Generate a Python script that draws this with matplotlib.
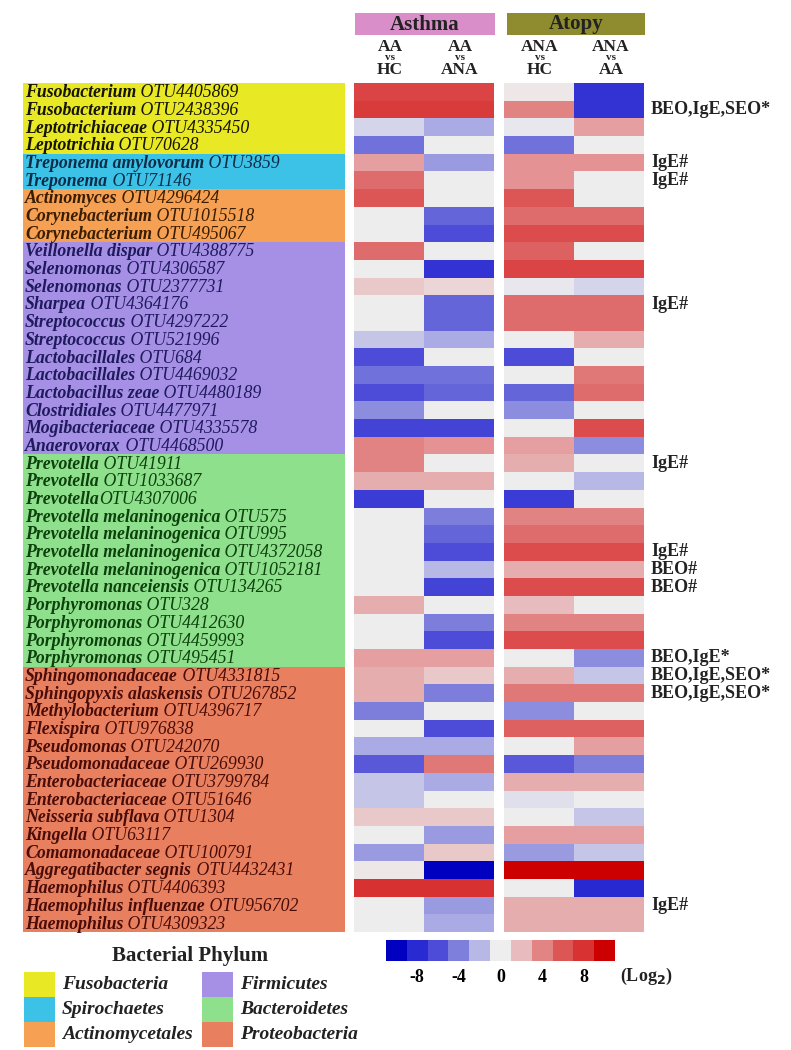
import matplotlib
matplotlib.use("Agg")
import matplotlib.pyplot as plt
import numpy as np
from matplotlib.colors import LinearSegmentedColormap, ListedColormap, BoundaryNorm, Normalize
from matplotlib.patches import Rectangle
import matplotlib.cm as cm

W, H = 791, 1050
plt.rcParams['font.family'] = ['Liberation Serif', 'DejaVu Serif']
plt.rcParams['axes.unicode_minus'] = False

# ---- data ----
genus = ["Fusobacterium", "Fusobacterium", "Leptotrichiaceae", "Leptotrichia",
         "Treponema amylovorum", "Treponema",
         "Actinomyces", "Corynebacterium", "Corynebacterium",
         "Veillonella dispar", "Selenomonas", "Selenomonas", "Sharpea",
         "Streptococcus", "Streptococcus", "Lactobacillales", "Lactobacillales",
         "Lactobacillus zeae", "Clostridiales", "Mogibacteriaceae", "Anaerovorax",
         "Prevotella", "Prevotella", "Prevotella",
         "Prevotella melaninogenica", "Prevotella melaninogenica",
         "Prevotella melaninogenica", "Prevotella melaninogenica",
         "Prevotella nanceiensis", "Porphyromonas", "Porphyromonas",
         "Porphyromonas", "Porphyromonas",
         "Sphingomonadaceae", "Sphingopyxis alaskensis", "Methylobacterium",
         "Flexispira", "Pseudomonas", "Pseudomonadaceae", "Enterobacteriaceae",
         "Enterobacteriaceae", "Neisseria subflava", "Kingella", "Comamonadaceae",
         "Aggregatibacter segnis", "Haemophilus", "Haemophilus influenzae",
         "Haemophilus"]
otu = [" OTU4405869", " OTU2438396", " OTU4335450", " OTU70628",
       " OTU3859", " OTU71146",
       " OTU4296424", " OTU1015518", " OTU495067",
       " OTU4388775", " OTU4306587", " OTU2377731", " OTU4364176",
       " OTU4297222", " OTU521996", " OTU684", " OTU4469032",
       " OTU4480189", " OTU4477971", " OTU4335578", " OTU4468500",
       " OTU41911", " OTU1033687", "OTU4307006",
       " OTU575", " OTU995", " OTU4372058", " OTU1052181",
       " OTU134265", " OTU328", " OTU4412630", " OTU4459993", " OTU495451",
       " OTU4331815", " OTU267852", " OTU4396717",
       " OTU976838", " OTU242070", " OTU269930", " OTU3799784",
       " OTU51646", " OTU1304", " OTU63117", " OTU100791",
       " OTU4432431", " OTU4406393", " OTU956702", " OTU4309323"]

phyla = ["Fusobacteria", "Spirochaetes", "Actinomycetales",
         "Firmicutes", "Bacteroidetes", "Proteobacteria"]
phylum_sizes = [4, 2, 3, 12, 12, 15]
phylum_colors = ["#E9E824", "#3CC2E6", "#F5A052", "#A690E6", "#8FE08C", "#E8805F"]
text_colors = ["#141400", "#0c2c48", "#3a1c00", "#1e1a5c", "#0c400c", "#4a0c08"]

groups = ["Asthma", "Atopy"]
group_colors = ["#D98EC9", "#8E8C2E"]
comparisons = [("AA", "HC"), ("AA", "ANA"), ("ANA", "HC"), ("ANA", "AA")]

# log2 fold changes
aa_hc = [7, 7.5, -1, -4.5, 3, 5, 6, 0, 0, 5, 0, 1.5, 0, 0, -1.5, -6, -4.5, -6,
         -3.5, -6.5, 4, 4, 2.5, -7, 0, 0, 0, 0, 0, 2.5, 0, 0, 3, 2.5, 2.5, -4,
         0, -2.5, -5.5, -1.5, -1.5, 1.5, 0, -3, 0.3, 8, 0, 0]
aa_ana = [7, 7.5, -2.5, 0, -3, 0, 0, -5, -6, 0, -7.5, 1, -5, -5, -2.5, 0, -4.5,
          -5, 0, -6.5, 3.5, 0, 2.5, 0, -4, -5, -6, -2, -6.5, 0, -4, -6, 3, 1.5,
          -4, 0, -6, -2.5, 4.5, -2.5, 0, 1.5, -3, 1.5, -10, 8, -3, -2.5]
ana_hc = [0.3, 4, -0.3, -4.5, 3.5, 3.5, 6, 5, 6.5, 5.5, 7, -0.3, 5, 5, 0, -6, 0,
          -5, -3.5, 0, 3, 2.5, 0, -7, 4, 5, 6.5, 2.5, 6.5, 2, 4, 6.5, 0, 2.5,
          4.5, -3.5, 5.5, 0, -5.5, 2.5, -0.5, 0, 3, -3, 10, 0, 2.5, 2.5]
ana_aa = [-7.5, -7.5, 3, 0, 3.5, 0, 0, 5, 6.5, 0, 7, -1, 5, 5, 2.5, 0, 4.5, 5, 0,
          6.5, -3.5, 0, -2, 0, 4, 5, 6.5, 2.5, 6.5, 0, 4, 6.5, -3.5, -1.5, 4.5,
          0, 5.5, 3, -4, 2.5, 0, -1.5, 3, -1.5, 10, -8, 2.5, 2.5]

note_rows = [2, 5, 6, 13, 22, 27, 28, 29, 33, 34, 35, 47]
note_text = ["BEO,IgE,SEO*", "IgE#", "IgE#", "IgE#", "IgE#", "IgE#", "BEO#",
             "BEO#", "BEO,IgE*", "BEO,IgE,SEO*", "BEO,IgE,SEO*", "IgE#"]

cbar_colors = ["#0000C0", "#2A2AD2", "#4C4CD8", "#7E7EDC", "#B8B8E6", "#EEEEEE",
               "#E8BCBF", "#E28484", "#DD5656", "#D83232", "#CC0000"]
cbar_ticks = [-8, -4, 0, 4, 8]

n = len(genus)
cmap = LinearSegmentedColormap.from_list("bwr_img", cbar_colors)
norm = Normalize(-10, 10)


def box(x0, y0, x1, y1):
    return [x0 / W, 1 - y1 / H, (x1 - x0) / W, (y1 - y0) / H]


fig = plt.figure(figsize=(W / 100, H / 100), dpi=100)

top, bot = 83, 932

# ---- label panel ----
axl = fig.add_axes(box(23, top, 345, bot))
axl.set_xlim(23, 345)
axl.set_ylim(n, 0)
axl.axis("off")
start = 0
row_tc = []
for size, c, tc in zip(phylum_sizes, phylum_colors, text_colors):
    axl.add_patch(Rectangle((23, start), 322, size, color=c, lw=0))
    row_tc += [tc] * size
    start += size

renderer = fig.canvas.get_renderer()
for i in range(n):
    t = axl.text(25, i + 0.55, genus[i], fontsize=12.8, fontweight="bold",
                 fontstyle="italic", va="center", ha="left", color=row_tc[i])
    bb = t.get_window_extent(renderer)
    x1 = axl.transData.inverted().transform((bb.x1, 0))[0]
    axl.text(x1, i + 0.55, otu[i], fontsize=12.8, fontstyle="italic",
             va="center", ha="left", color=row_tc[i])

# ---- heatmaps ----
vals = np.array([aa_hc, aa_ana, ana_hc, ana_aa]).T
for k, (x0, x1) in enumerate([(354, 494), (504, 644)]):
    ax = fig.add_axes(box(x0, top, x1, bot))
    ax.pcolormesh(vals[:, 2 * k:2 * k + 2], cmap=cmap, norm=norm)
    ax.set_ylim(n, 0)
    ax.axis("off")

# ---- headers ----
for (x0, x1), g, c in zip([(355, 495), (507, 645)], groups, group_colors):
    fig.patches.append(Rectangle((x0 / W, 1 - 35 / H), (x1 - x0) / W, 22 / H,
                                 transform=fig.transFigure, color=c, lw=0))
    fig.text((x0 + x1) / 2 / W, 1 - 24.5 / H, g, ha="center", va="center",
             fontsize=15, fontweight="bold", color="#222222")

for xc, (a, b) in zip([390, 460, 540, 611], comparisons):
    fig.text(xc / W, 1 - 47 / H, a, ha="center", va="center", fontsize=12.5,
             fontweight="bold", color="#222222")
    fig.text(xc / W, 1 - 58 / H, "vs", ha="center", va="center", fontsize=8,
             fontweight="bold", color="#222222")
    fig.text(xc / W, 1 - 70 / H, b, ha="center", va="center", fontsize=12.5,
             fontweight="bold", color="#222222")

# ---- annotations ----
for r, s in zip(note_rows, note_text):
    yc = top + (r - 0.5) * (bot - top) / n
    fig.text(651 / W, 1 - yc / H, s, ha="left", va="center", fontsize=13,
             fontweight="bold", color="#222222")

# ---- colorbar ----
cax = fig.add_axes(box(386, 940, 615, 961))
bnorm = BoundaryNorm(np.arange(-11, 12, 2), len(cbar_colors))
sm = cm.ScalarMappable(norm=bnorm, cmap=ListedColormap(cbar_colors))
cb = fig.colorbar(sm, cax=cax, orientation="horizontal", ticks=cbar_ticks)
cb.outline.set_visible(False)
cb.minorticks_off()
cax.tick_params(which="both", length=0, pad=6)
for lab in cax.get_xticklabels():
    lab.set_fontsize(13)
    lab.set_fontweight("bold")
fig.text(620 / W, 1 - 976 / H, "(Log$_\\mathbf{2}$)", ha="left", va="center",
         fontsize=13, fontweight="bold", color="#222222")

# ---- phylum legend ----
fig.text(190 / W, 1 - 956 / H, "Bacterial Phylum", ha="center", va="center",
         fontsize=15, fontweight="bold", color="#222222")
for j, (p, c) in enumerate(zip(phyla, phylum_colors)):
    col, row = divmod(j, 3)
    px = 24 + col * 178
    py = 972 + row * 25
    fig.patches.append(Rectangle((px / W, 1 - (py + 25) / H), 31 / W, 25 / H,
                                 transform=fig.transFigure, color=c, lw=0))
    fig.text((px + 38) / W, 1 - (py + 12.5) / H, p, ha="left", va="center",
             fontsize=14, fontweight="bold", fontstyle="italic",
             color="#222222")

fig.savefig("out.png", dpi=100, facecolor="white")
